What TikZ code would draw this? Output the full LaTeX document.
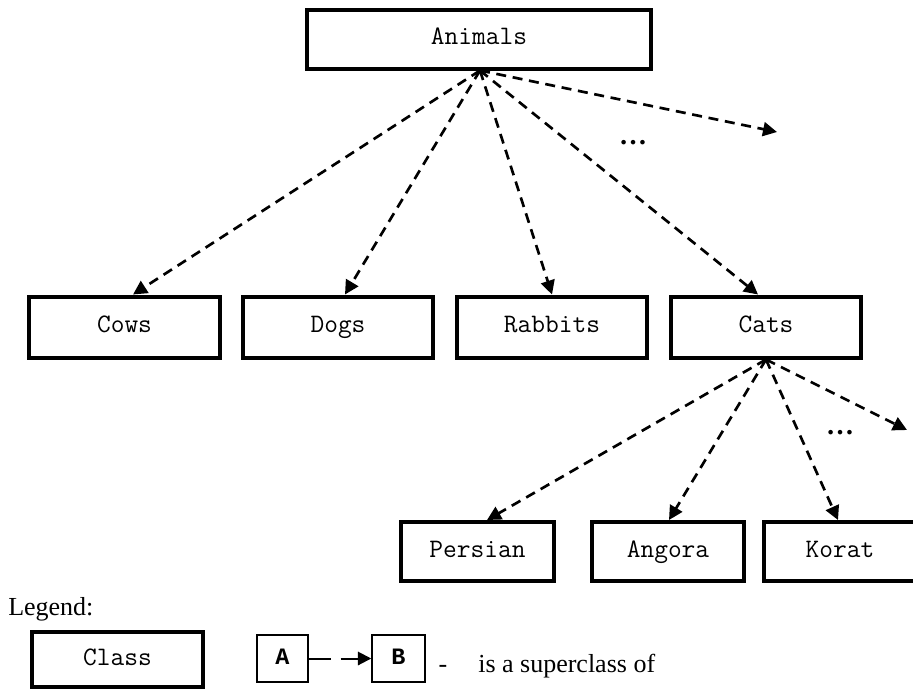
\documentclass[tikz,border=0pt]{standalone}
\usepackage{fontspec}
\setmainfont{Liberation Serif}
\newfontfamily\boldmono{Liberation Mono}
\usetikzlibrary{arrows.meta,calc}

\begin{document}
\begin{tikzpicture}[x=0.75pt,y=-0.75pt,
  classbox/.style={draw,line width=3pt,inner sep=0pt,
                   minimum height={#1*0.75pt},
                   text height=12pt,text depth=3.5pt,
                   font=\fontsize{20pt}{22pt}\ttfamily},
  classbox/.default=61,
  wide/.style={minimum width={#1*0.75pt}},
  smallbox/.style={draw,line width=1.1pt,inner sep=0pt,
                   minimum height={47*0.75pt},
                   text height=12pt,text depth=3.5pt,
                   font=\fontsize{17.6pt}{20pt}\boldmono\bfseries},
  isa/.style={line width=2pt,dash pattern=on 7.5pt off 5pt,
              -{Triangle[length=10.5pt,width=10.5pt]}},
  more/.style={font=\fontsize{21pt}{22pt}\selectfont\bfseries,inner sep=0pt},
  plain/.style={font=\fontsize{19.5pt}{22pt}\selectfont,inner sep=0pt}]
  \useasboundingbox (0,0) rectangle (913,689);

  % class hierarchy
  \node[classbox=59, wide=344] (animals) at (479,39) {Animals};

  \node[classbox, wide=191] (cows)    at (124.5,327) {Cows};
  \node[classbox, wide=190] (dogs)    at (338,327)   {Dogs};
  \node[classbox, wide=190] (rabbits) at (552,327)   {Rabbits};
  \node[classbox, wide=190] (cats)    at (766,327)   {Cats};

  \node[classbox=59, wide=153] (persian) at (477.5,551.5) {Persian};
  \node[classbox=59, wide=152] (angora)  at (668,551.5)   {Angora};
  \node[classbox=59, wide=152] (korat)   at (840,551.5)   {Korat};

  % open ends of the hierarchy
  \coordinate (animalsmore) at (777,132);
  \coordinate (catsmore)    at (907,430);
  \node[more] (dotsA) at (633,143) {…};
  \node[more] (dotsC) at (840,433) {…};

  % superclass arrows
  \draw[isa] ($(animals.south)+(1,0)$) -- ($(cows.north)+(8.5,0)$);
  \draw[isa] ($(animals.south)+(1,0)$) -- ($(dogs.north)+(7,0)$);
  \draw[isa] ($(animals.south)+(1,0)$) -- (rabbits.north);
  \draw[isa] ($(animals.south)+(1,0)$) -- ($(cats.north)+(-8,0)$);
  \draw[isa] ($(animals.south)+(1,0)$) -- (animalsmore);

  \draw[isa] (cats.south) -- ($(persian.north)+(9.5,0)$);
  \draw[isa] (cats.south) -- ($(angora.north)+(1,0)$);
  \draw[isa] (cats.south) -- ($(korat.north)+(-2,0)$);
  \draw[isa] (cats.south) -- (catsmore);

  % legend
  \node[plain, anchor=base west] (legend) at (8,615) {Legend:};
  \node[classbox=55, wide=171] (class) at (117.5,659.5) {Class};
  \node[smallbox, wide=51] (A) at (282.5,658.5) {A};
  \node[smallbox, wide=53] (B) at (398.5,658.5) {B};
  \draw[line width=1.5pt, dash pattern=on 16.5pt off 7.5pt on 100pt,
        -{Triangle[length=10pt,width=10pt]}] (A.east) -- (B.west);
  \node[plain, anchor=base] (dash) at (443,672) {-};
  \node[plain, anchor=base west] (meaning) at (478,672) {is a superclass of};
\end{tikzpicture}
\end{document}
